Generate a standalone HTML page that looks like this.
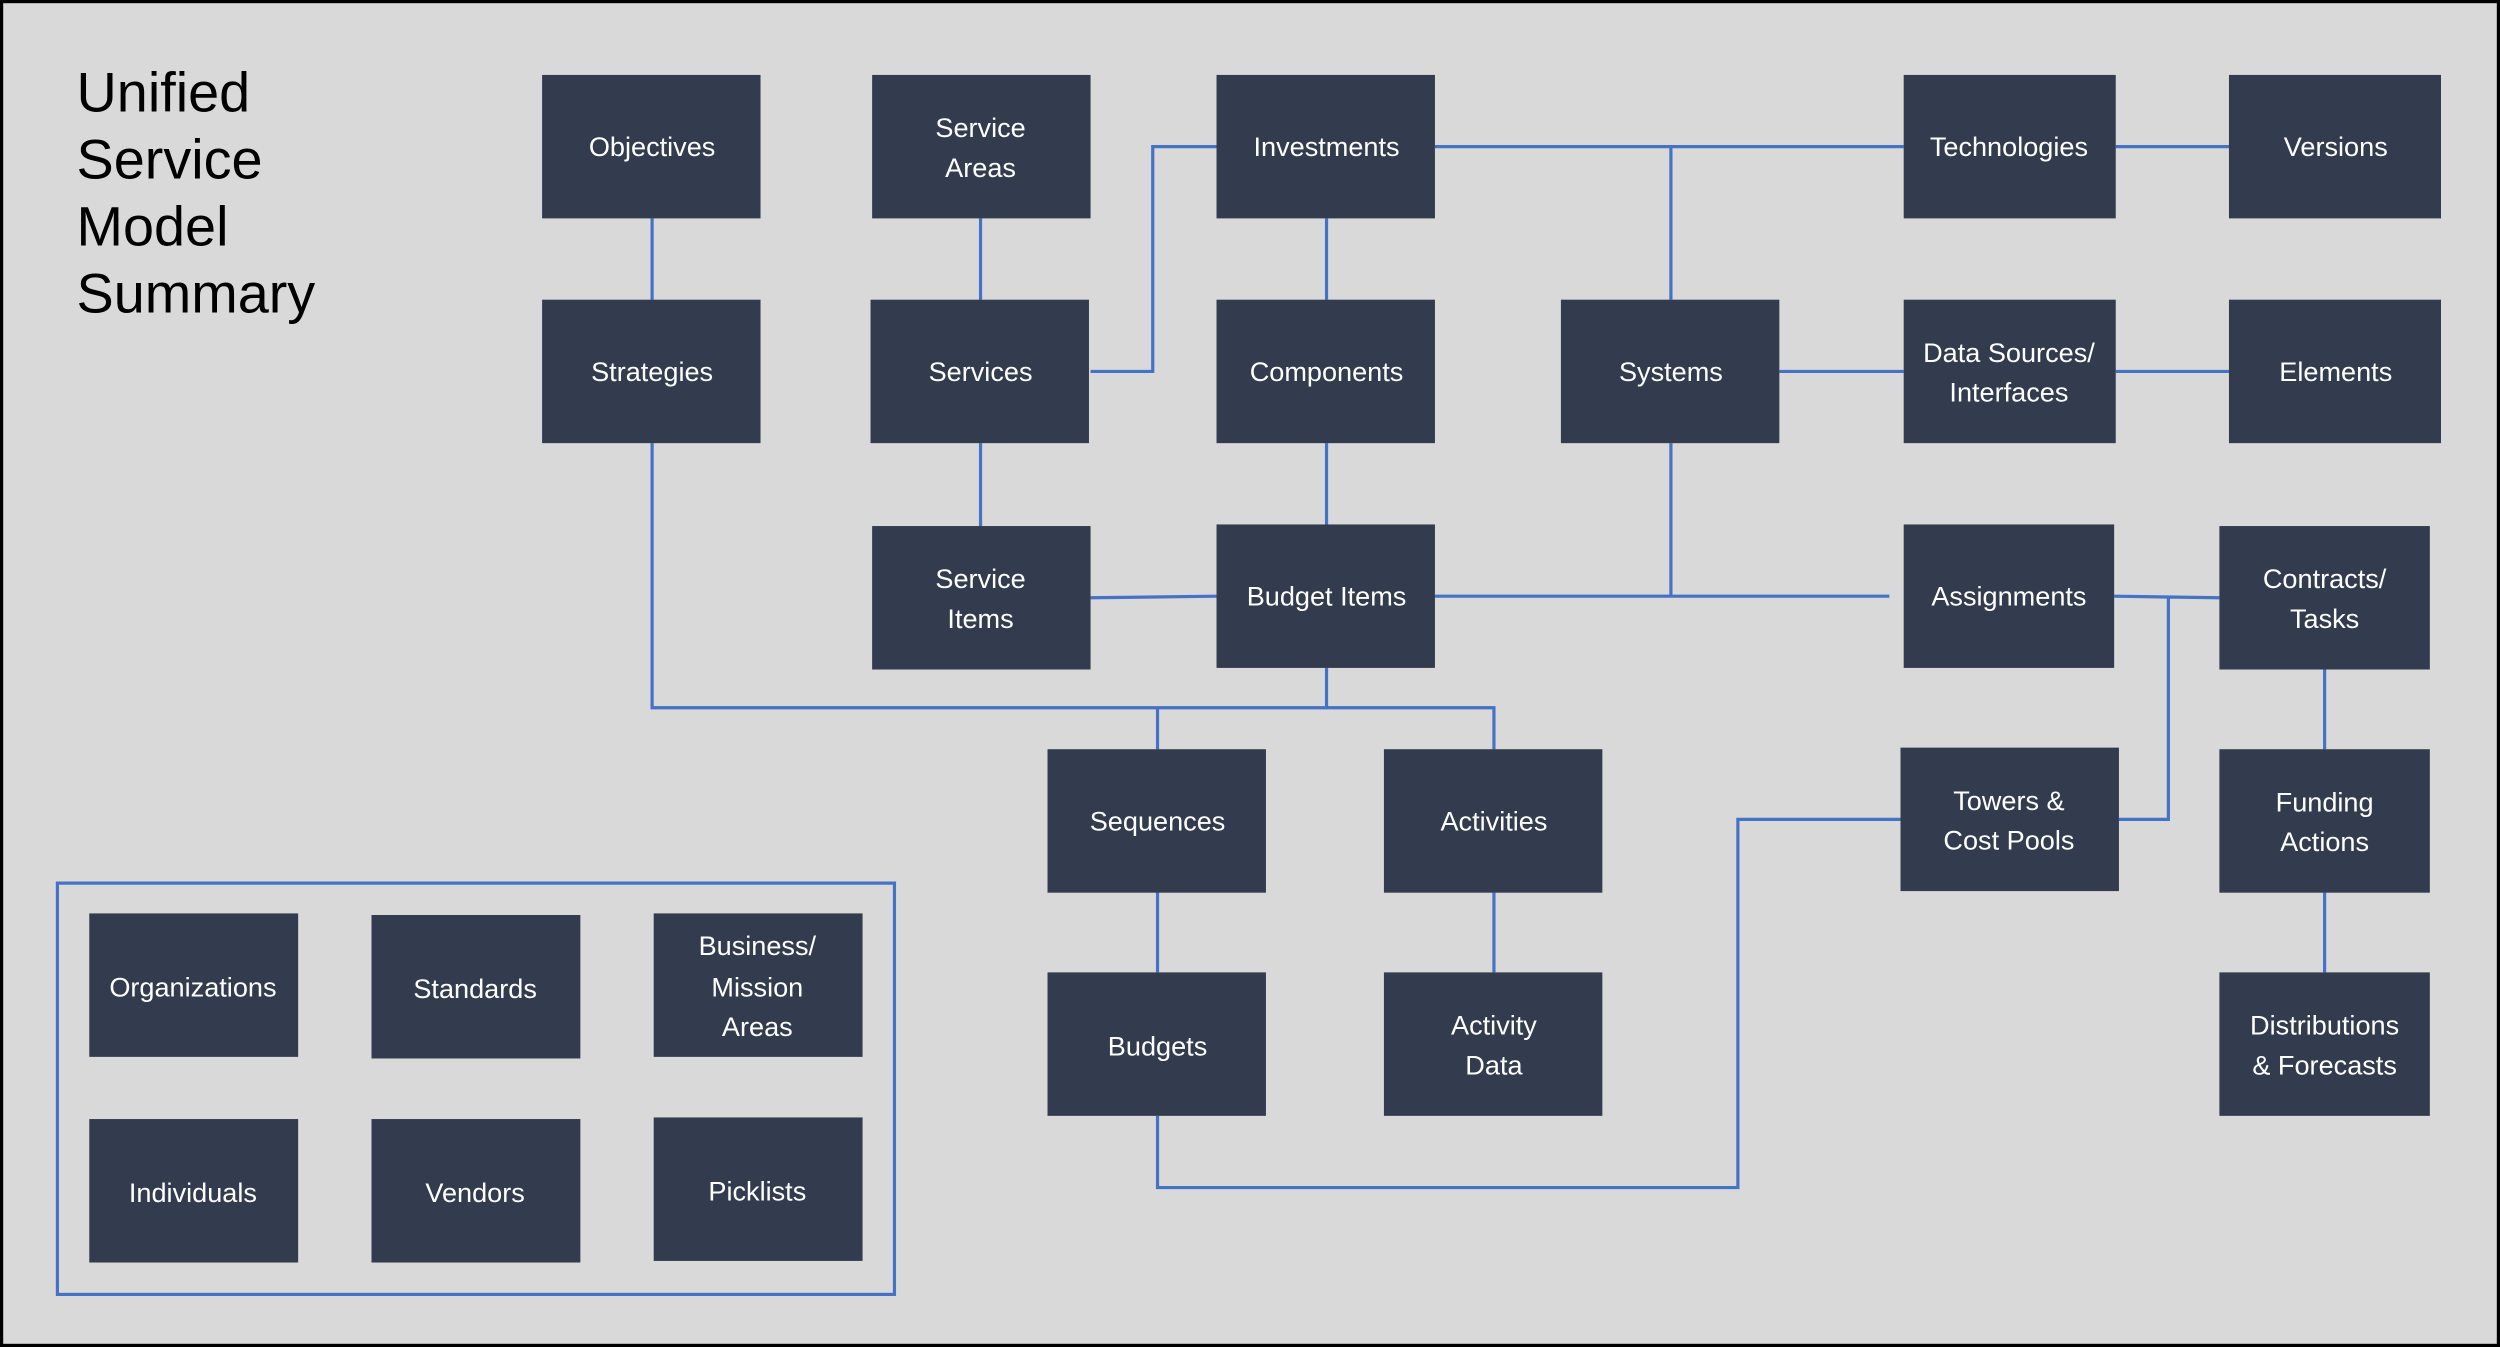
<!DOCTYPE html>
<html><head><meta charset="utf-8"><style>
html,body{margin:0;padding:0;background:#d9d9d9}
svg{display:block}
text{font-family:"Liberation Sans",sans-serif;fill:#fff;font-size:17px;text-anchor:middle}
.t{fill:#000;text-anchor:start;font-size:35px}
</style></head><body>
<svg width="2500" height="1347" viewBox="0 0 1568 845" preserveAspectRatio="none">
<rect x="0" y="0" width="1568" height="845" fill="#d9d9d9" stroke="#000" stroke-width="4"/>
<text class="t" x="48" y="70">Unified</text>
<text class="t" x="48" y="112">Service</text>
<text class="t" x="48" y="154">Model</text>
<text class="t" x="48" y="196">Summary</text>
<g stroke="#4472c4" stroke-width="2" fill="none">
<path d="M409 137V188M615 137V188M684 233H723V92H763M832 137V188M900 92H1194M1048 92V188M1327 92H1398M1116 233H1194M1327 233H1398M615 278V330M684 375L763 374M832 278V329M900 374H1185M1048 278V374M1326 374L1392 375M1360 374V514H1329M1458 420V470M1458 560V610M409 278V444H937V470M832 419V444M726 444V470M726 560V610M937 560V610M726 700V745H1090V514H1192"/>
<rect x="36" y="554" width="525" height="258"/>
</g>
<g fill="#323c4e">
<rect x="340" y="47" width="137" height="90"/>
<rect x="547" y="47" width="137" height="90"/>
<rect x="763" y="47" width="137" height="90"/>
<rect x="1194" y="47" width="133" height="90"/>
<rect x="1398" y="47" width="133" height="90"/>
<rect x="340" y="188" width="137" height="90"/>
<rect x="546" y="188" width="137" height="90"/>
<rect x="763" y="188" width="137" height="90"/>
<rect x="979" y="188" width="137" height="90"/>
<rect x="1194" y="188" width="133" height="90"/>
<rect x="1398" y="188" width="133" height="90"/>
<rect x="547" y="330" width="137" height="90"/>
<rect x="763" y="329" width="137" height="90"/>
<rect x="1194" y="329" width="132" height="90"/>
<rect x="1392" y="330" width="132" height="90"/>
<rect x="657" y="470" width="137" height="90"/>
<rect x="868" y="470" width="137" height="90"/>
<rect x="1192" y="469" width="137" height="90"/>
<rect x="1392" y="470" width="132" height="90"/>
<rect x="657" y="610" width="137" height="90"/>
<rect x="868" y="610" width="137" height="90"/>
<rect x="1392" y="610" width="132" height="90"/>
<rect x="56" y="573" width="131" height="90"/>
<rect x="233" y="574" width="131" height="90"/>
<rect x="410" y="573" width="131" height="90"/>
<rect x="56" y="702" width="131" height="90"/>
<rect x="233" y="702" width="131" height="90"/>
<rect x="410" y="701" width="131" height="90"/>
</g>
<text x="409" y="98">Objectives</text>
<text x="615" y="86">Service</text><text x="615" y="111">Areas</text>
<text x="832" y="98">Investments</text>
<text x="1260" y="98">Technologies</text>
<text x="1465" y="98">Versions</text>
<text x="409" y="239">Strategies</text>
<text x="615" y="239">Services</text>
<text x="832" y="239">Components</text>
<text x="1048" y="239">Systems</text>
<text x="1260" y="227">Data Sources/</text><text x="1260" y="252">Interfaces</text>
<text x="1465" y="239">Elements</text>
<text x="615" y="369">Service</text><text x="615" y="394">Items</text>
<text x="832" y="380">Budget Items</text>
<text x="1260" y="380">Assignments</text>
<text x="1458" y="369">Contracts/</text><text x="1458" y="394">Tasks</text>
<text x="726" y="521">Sequences</text>
<text x="937" y="521">Activities</text>
<text x="1260" y="508">Towers &amp;</text><text x="1260" y="533">Cost Pools</text>
<text x="1458" y="509">Funding</text><text x="1458" y="534">Actions</text>
<text x="726" y="662">Budgets</text>
<text x="937" y="649">Activity</text><text x="937" y="674">Data</text>
<text x="1458" y="649">Distributions</text><text x="1458" y="674">&amp; Forecasts</text>
<text x="121" y="625">Organizations</text>
<text x="298" y="626">Standards</text>
<text x="475" y="599">Business/</text><text x="475" y="625">Mission</text><text x="475" y="650">Areas</text>
<text x="121" y="754">Individuals</text>
<text x="298" y="754">Vendors</text>
<text x="475" y="753">Picklists</text>
</svg>
</body></html>
